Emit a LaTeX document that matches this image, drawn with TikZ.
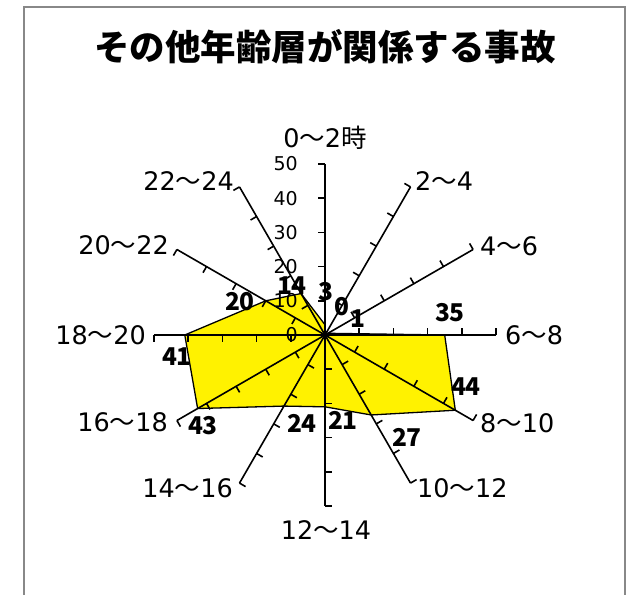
\documentclass[tikz,border=0pt]{standalone}
\usepackage{fontspec}
\setmainfont{DejaVu Sans}
\newfontfamily\jp{Noto Sans CJK JP}
\usepackage{tikz}
\definecolor{framegray}{RGB}{136,136,136}
\tikzstyle{catlabel}=[inner sep=0pt,font=\fontsize{25.5}{30}\selectfont]
\tikzstyle{vallabel}=[inner sep=0pt,font=\jp\bfseries\fontsize{24.5}{28}\selectfont]
\tikzstyle{axlabel}=[inner sep=0pt,anchor=east,font=\fontsize{19}{22}\selectfont]
\tikzstyle{axisline}=[line width=1.6pt]
\newcommand{\tl}{{\jp 〜}}

\begin{document}
\begin{tikzpicture}[x=1pt,y=1pt]
    \newcommand{\rs}{3.42}
    \useasboundingbox (-325,-260) rectangle (305,335);
    % frame and title
    \draw[framegray,line width=2pt] (-301,-270) -- (-301,327.5) -- (300,327.5) -- (300,-270);
    \node (title) at (0,288) {\jp\bfseries\fontsize{35.5}{40}\selectfont その他年齢層が関係する事故};
    % data polygon
    \foreach \v [count=\i from 0] in {3,0,1,35,44,27,21,24,43,41,20,14}
      \coordinate (p\i) at ({90-30*\i}:{\v*\rs});
    \filldraw[fill=yellow,line width=1.3pt,line join=round]
      (p0) -- (p1) -- (p2) -- (p3) -- (p4) -- (p5) -- (p6)
      -- (p7) -- (p8) -- (p9) -- (p10) -- (p11) -- cycle;
    % axes with ticks
    \foreach \a in {0,30,...,330} {
      \draw[axisline] (0,0) -- (\a:50*\rs);
      \foreach \k in {10,20,...,50}
        \draw[axisline] (\a:\k*\rs) -- ++(\a+90:7);
    }
    \foreach \k in {0,10,...,50}
      \node[axlabel] (n\k) at (-27,\k*\rs) {\k};
    % category labels
    \node[catlabel] (c0) at (0,197) {0\tl 2{\jp 時}};
    \node[catlabel,anchor=west] (c1) at (90,154) {2\tl 4};
    \node[catlabel,anchor=west] (c2) at (155,89) {4\tl 6};
    \node[catlabel,anchor=west] (c3) at (180,0) {6\tl 8};
    \node[catlabel,anchor=west] (c4) at (155,-88) {8\tl 10};
    \node[catlabel,anchor=west] (c5) at (92,-153) {10\tl 12};
    \node[catlabel] (c6) at (1,-195) {12\tl 14};
    \node[catlabel,anchor=east] (c7) at (-92,-153) {14\tl 16};
    \node[catlabel,anchor=east] (c8) at (-157,-87) {16\tl 18};
    \node[catlabel,anchor=east] (c9) at (-179,0) {18\tl 20};
    \node[catlabel,anchor=east] (c10) at (-156,90) {20\tl 22};
    \node[catlabel,anchor=east] (c11) at (-91,154) {22\tl 24};
    % value labels
    \node[vallabel] (v0) at (1,43) {3};
    \node[vallabel] (v1) at (17,28) {0};
    \node[vallabel] (v2) at (32.5,16.5) {1};
    \node[vallabel] (v3) at (125,22) {35};
    \node[vallabel] (v4) at (141,-52) {44};
    \node[vallabel] (v5) at (82,-102) {27};
    \node[vallabel] (v6) at (18,-85) {21};
    \node[vallabel] (v7) at (-23,-88) {24};
    \node[vallabel] (v8) at (-122,-91) {43};
    \node[vallabel] (v9) at (-148,-22) {41};
    \node[vallabel] (v10) at (-85,33) {20};
    \node[vallabel] (v11) at (-33,49) {14};
\end{tikzpicture}
\end{document}
